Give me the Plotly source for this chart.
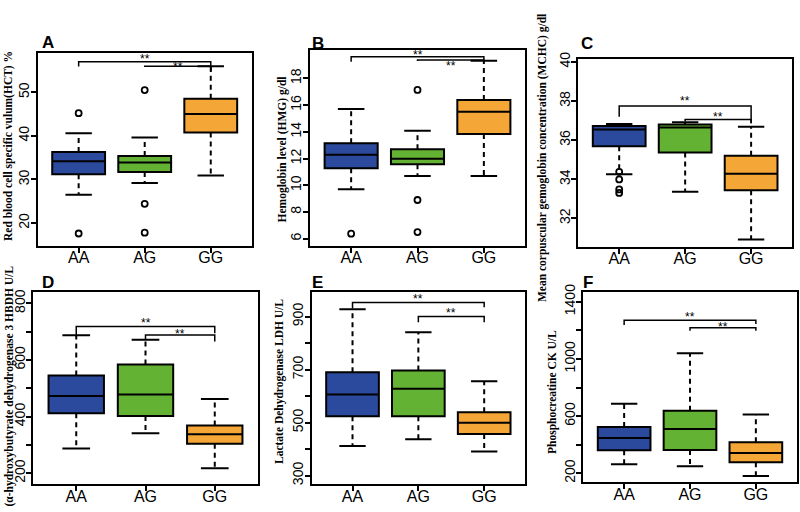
import plotly.graph_objects as go

# ---------------- data ----------------
genotypes = ["AA", "AG", "GG"]
positions = [1, 2, 3]
box_colors = ["#2B4A9E", "#63B233", "#F4A636"]
bracket_pairs = [(0, 2), (1, 2)]  # AA-GG, AG-GG
star_text = "**"

# A: HCT %
hct_q1 = [31.2, 31.7, 40.8]
hct_median = [34.2, 33.9, 45.0]
hct_q3 = [36.3, 35.4, 48.5]
hct_low = [26.5, 29.2, 30.9]
hct_high = [40.6, 39.6, 56.0]
hct_outliers = [[45.2, 17.6], [50.5, 24.4, 17.8], []]
hct_bracket_y = [57.0, 56.0]
hct_bracket_ends = [[55.9, 54.7], [55.8, 54.7]]
hct_star_y = [58.0, 56.3]

# B: Hemoglobin g/dl
hmg_q1 = [11.27, 11.57, 13.84]
hmg_median = [12.29, 11.99, 15.5]
hmg_q3 = [13.14, 12.69, 16.38]
hmg_low = [9.7, 10.69, 10.69]
hmg_high = [15.7, 14.08, 19.32]
hmg_outliers = [[6.38], [17.13, 8.9, 6.5], []]
hmg_bracket_y = [19.62, 19.37]
hmg_bracket_ends = [[19.25, 19.32], [19.3, 19.32]]
hmg_star_y = [19.87, 19.07]

# C: MCHC g/dl
mchc_q1 = [35.69, 35.37, 33.44]
mchc_median = [36.55, 36.65, 34.28]
mchc_q3 = [36.72, 36.8, 35.2]
mchc_low = [34.26, 33.36, 30.92]
mchc_high = [36.82, 36.92, 36.68]
mchc_outliers = [[34.38, 33.99, 33.48, 33.3], [], []]
mchc_bracket_y = [37.74, 37.05]
mchc_bracket_ends = [[37.19, 36.87], [36.95, 36.87]]
mchc_star_y = [38.13, 37.28]

# D: HBDH U/L
hbdh_q1 = [412, 402, 304]
hbdh_median = [473, 478, 338]
hbdh_q3 = [545, 584, 369]
hbdh_low = [287, 341, 218]
hbdh_high = [687, 671, 462]
hbdh_outliers = [[], [], []]
hbdh_bracket_y = [718, 688]
hbdh_bracket_ends = [[687, 694], [673, 665]]
hbdh_star_y = [739, 700]

# E: LDH U/L
ldh_q1 = [524, 524, 457]
ldh_median = [606, 628, 499]
ldh_q3 = [690, 697, 539]
ldh_low = [412, 437, 391]
ldh_high = [928, 841, 656]
ldh_outliers = [[], [], []]
ldh_bracket_y = [953, 900]
ldh_bracket_ends = [[931, 935], [879, 879]]
ldh_star_y = [975, 923]

# F: CK U/L
ck_q1 = [361, 363, 277]
ck_median = [447, 510, 342]
ck_q3 = [524, 638, 417]
ck_low = [263, 249, 181]
ck_high = [687, 1039, 612]
ck_outliers = [[], [], []]
ck_bracket_y = [1270, 1218]
ck_bracket_ends = [[1237, 1244], [1197, 1197]]
ck_star_y = [1307, 1235]

# axis ticks
hct_ticks = [20, 30, 40, 50]
hmg_ticks = [6, 8, 10, 12, 14, 16, 18]
mchc_ticks = [32, 34, 36, 38, 40]
hbdh_ticks = [200, 300, 400, 500, 600, 700, 800]
hbdh_ticklabels = ["200", "", "400", "", "600", "", "800"]
ldh_ticks = [300, 400, 500, 600, 700, 800, 900]
ldh_ticklabels = ["300", "", "500", "", "700", "", "900"]
ck_ticks = [200, 400, 600, 800, 1000, 1200, 1400]
ck_ticklabels = ["200", "", "600", "", "1000", "", "1400"]

titles = [
    "Red blood cell specific vulum(HCT) %",
    "Hemoglobin level (HMG) g/dl",
    "Mean corpuscular gemoglobin concentration (MCHC) g/dl",
    "(\u03b1-hydroxybutyrate dehydrogenase 3 HBDH U/L",
    "Lactate Dehydrogenase LDH U/L",
    "Phosphocreatine CK U/L",
]
letters = ["A", "B", "C", "D", "E", "F"]

# ---------------- layout geometry (pixels) ----------------
W, H = 800, 512
panel_px = [  # x0, x1, y0(top), y1(bottom)
    (37.7, 251.7, 53.3, 245.7),
    (310.0, 525.0, 50.0, 245.7),
    (578.3, 792.0, 59.0, 246.7),
    (33.3, 257.7, 291.7, 484.3),
    (311.7, 525.0, 291.7, 484.3),
    (583.3, 796.7, 291.7, 482.3),
]
y_ranges = [[14.8, 58.95], [5.48, 20.12], [30.55, 40.15], [161, 841], [267, 994], [137, 1470]]
title_pos = [(8, 146), (281.5, 150), (542, 158), (8.5, 386), (279, 382), (552, 392)]
letter_pos = [(47.5, 42.5), (317.5, 43), (587, 43), (47.5, 282.5), (317, 282), (587.5, 282)]

panels = [
    (hct_q1, hct_median, hct_q3, hct_low, hct_high, hct_outliers, hct_bracket_y, hct_bracket_ends, hct_star_y, hct_ticks, [str(v) for v in hct_ticks]),
    (hmg_q1, hmg_median, hmg_q3, hmg_low, hmg_high, hmg_outliers, hmg_bracket_y, hmg_bracket_ends, hmg_star_y, hmg_ticks, [str(v) for v in hmg_ticks]),
    (mchc_q1, mchc_median, mchc_q3, mchc_low, mchc_high, mchc_outliers, mchc_bracket_y, mchc_bracket_ends, mchc_star_y, mchc_ticks, [str(v) for v in mchc_ticks]),
    (hbdh_q1, hbdh_median, hbdh_q3, hbdh_low, hbdh_high, hbdh_outliers, hbdh_bracket_y, hbdh_bracket_ends, hbdh_star_y, hbdh_ticks, hbdh_ticklabels),
    (ldh_q1, ldh_median, ldh_q3, ldh_low, ldh_high, ldh_outliers, ldh_bracket_y, ldh_bracket_ends, ldh_star_y, ldh_ticks, ldh_ticklabels),
    (ck_q1, ck_median, ck_q3, ck_low, ck_high, ck_outliers, ck_bracket_y, ck_bracket_ends, ck_star_y, ck_ticks, ck_ticklabels),
]

BOX_W = 0.8
CAP_HALF = 0.2
SANS = "Liberation Sans, Arial, sans-serif"
SERIF = "Liberation Serif, Times New Roman, serif"

fig = go.Figure()
annotations = []
layout = {}

for k, (q1, med, q3, lo, hi, outs, by, bends, sy, tvals, ttext) in enumerate(panels):
    idx = "" if k == 0 else str(k + 1)
    xa, ya = "x" + idx, "y" + idx

    # whiskers (dashed)
    wx, wy = [], []
    for i, p in enumerate(positions):
        wx += [p, p, None, p, p, None]
        wy += [q3[i], hi[i], None, q1[i], lo[i], None]
    fig.add_trace(go.Scatter(x=wx, y=wy, mode="lines", xaxis=xa, yaxis=ya,
                             line=dict(color="black", width=2, dash="5px,4px"),
                             hoverinfo="skip", showlegend=False))
    # caps
    cx, cy = [], []
    for i, p in enumerate(positions):
        cx += [p - CAP_HALF, p + CAP_HALF, None, p - CAP_HALF, p + CAP_HALF, None]
        cy += [hi[i], hi[i], None, lo[i], lo[i], None]
    fig.add_trace(go.Scatter(x=cx, y=cy, mode="lines", xaxis=xa, yaxis=ya,
                             line=dict(color="black", width=2),
                             hoverinfo="skip", showlegend=False))
    # boxes
    for i, p in enumerate(positions):
        fig.add_trace(go.Box(x=[p], q1=[q1[i]], median=[med[i]], q3=[q3[i]],
                             lowerfence=[q1[i]], upperfence=[q3[i]],
                             width=BOX_W, fillcolor=box_colors[i],
                             line=dict(color="black", width=2),
                             whiskerwidth=0, boxpoints=False,
                             xaxis=xa, yaxis=ya, showlegend=False, name=genotypes[i]))
    # outliers
    ox, oy = [], []
    for i, p in enumerate(positions):
        for v in outs[i]:
            ox.append(p)
            oy.append(v)
    if ox:
        fig.add_trace(go.Scatter(x=ox, y=oy, mode="markers", xaxis=xa, yaxis=ya,
                                 marker=dict(symbol="circle-open", size=6, color="black",
                                             line=dict(width=1.8, color="black")),
                                 hoverinfo="skip", showlegend=False))
    # significance brackets
    for b, (i, j) in enumerate(bracket_pairs):
        fig.add_trace(go.Scatter(x=[positions[i], positions[i], positions[j], positions[j]],
                                 y=[bends[b][0], by[b], by[b], bends[b][1]],
                                 mode="lines", xaxis=xa, yaxis=ya,
                                 line=dict(color="black", width=1.5),
                                 hoverinfo="skip", showlegend=False))
        annotations.append(dict(x=(positions[i] + positions[j]) / 2, y=sy[b],
                                xref=xa, yref=ya, text=star_text, showarrow=False,
                                yshift=-2, font=dict(family=SANS, size=12, color="black")))

    x0, x1, y0, y1 = panel_px[k]
    layout["xaxis" + idx] = dict(
        domain=[x0 / W, x1 / W], anchor=ya, range=[0.38, 3.62], automargin=False,
        tickmode="array", tickvals=positions, ticktext=genotypes,
        ticks="outside", ticklen=5, tickwidth=1.5, tickcolor="black",
        ticklabelstandoff=-9,
        showline=True, mirror=True, linecolor="black", linewidth=2,
        showgrid=False, zeroline=False,
        tickfont=dict(family=SANS, size=16, color="black"))
    layout["yaxis" + idx] = dict(
        domain=[1 - y1 / H, 1 - y0 / H], anchor=xa, range=y_ranges[k], automargin=False,
        tickmode="array", tickvals=tvals, ticktext=ttext, tickangle=-90,
        ticks="outside", ticklen=5, tickwidth=1.5, tickcolor="black",
        ticklabelstandoff=-4,
        showline=True, mirror=True, linecolor="black", linewidth=2,
        showgrid=False, zeroline=False,
        tickfont=dict(family=SANS, size=14, color="black"))

    tx, ty = title_pos[k]
    annotations.append(dict(x=tx / W, y=1 - ty / H, xref="paper", yref="paper",
                            text=titles[k], textangle=-90, showarrow=False,
                            xanchor="center", yanchor="middle",
                            font=dict(family=SERIF, size=11.5, color="black", weight="bold")))
    lx, ly = letter_pos[k]
    annotations.append(dict(x=lx / W, y=1 - ly / H, xref="paper", yref="paper",
                            text=letters[k], showarrow=False,
                            xanchor="center", yanchor="middle",
                            font=dict(family=SANS, size=17, color="black", weight="bold")))

fig.update_layout(
    width=W, height=H, margin=dict(l=0, r=0, t=0, b=0, autoexpand=False),
    paper_bgcolor="white", plot_bgcolor="white",
    showlegend=False, annotations=annotations, **layout)

fig.write_html("out.html", config={"displayModeBar": False},
               post_script="document.body.style.margin='0px';document.body.style.overflow='hidden';")
